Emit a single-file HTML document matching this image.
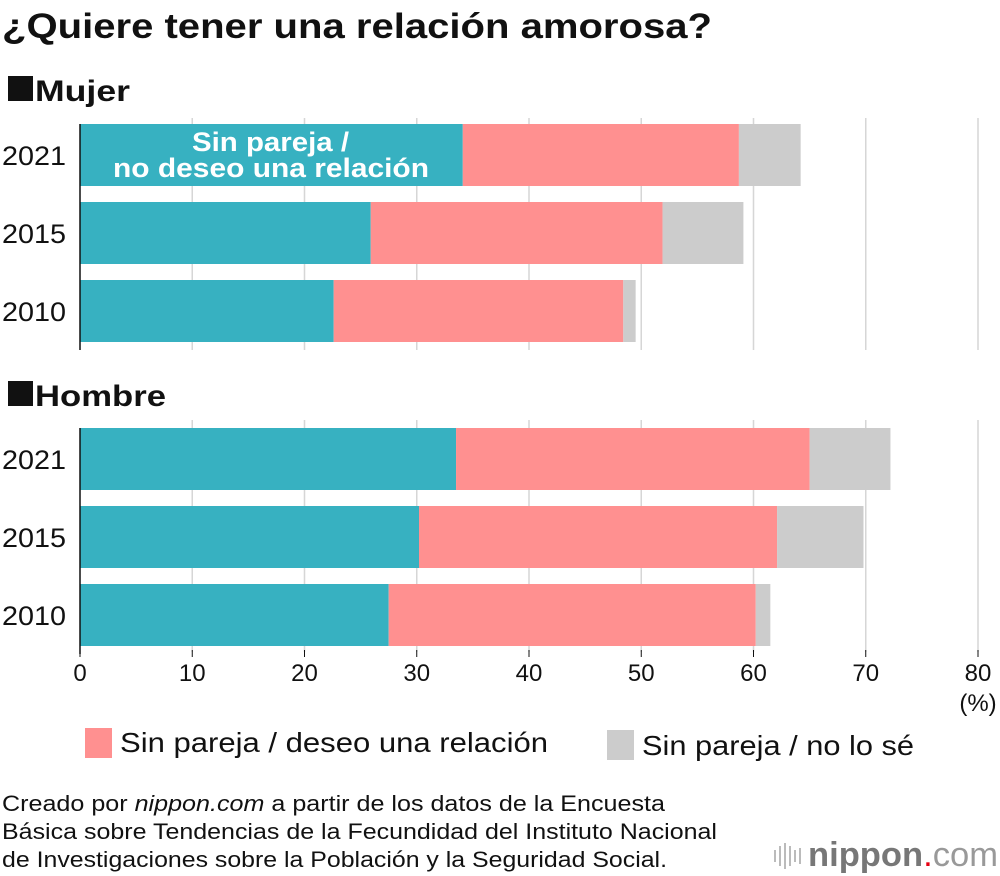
<!DOCTYPE html>
<html><head><meta charset="utf-8"><style>
body{margin:0;background:#fff;}
svg{display:block;font-family:"Liberation Sans",sans-serif;}
</style></head><body>
<svg id="c" width="1000" height="876" viewBox="0 0 1000 876">
<text x="2" y="38" font-size="35" font-weight="bold" fill="#111" textLength="710" lengthAdjust="spacingAndGlyphs">¿Quiere tener una relación amorosa?</text>
<rect x="8" y="76" width="25" height="25" fill="#111"/>
<text x="35" y="101" font-size="30" font-weight="bold" fill="#111" textLength="95" lengthAdjust="spacingAndGlyphs">Mujer</text>
<rect x="8" y="381" width="25" height="25" fill="#111"/>
<text x="35" y="406" font-size="30" font-weight="bold" fill="#111" textLength="131" lengthAdjust="spacingAndGlyphs">Hombre</text>
<g id="grid"></g><g id="bars"></g><g id="ticks"></g>
<text x="978" y="711" font-size="24" text-anchor="middle" fill="#111">(%)</text>
<rect x="85" y="728" width="27" height="30" fill="#ff9090"/>
<text x="120" y="752" font-size="28" fill="#111" textLength="428" lengthAdjust="spacingAndGlyphs">Sin pareja / deseo una relación</text>
<rect x="607" y="730" width="27" height="30" fill="#cccccc"/>
<text x="642" y="755" font-size="28" fill="#111" textLength="272" lengthAdjust="spacingAndGlyphs">Sin pareja / no lo sé</text>
<g font-size="22" fill="#111">
<text x="2" y="811" textLength="663" lengthAdjust="spacingAndGlyphs">Creado por <tspan font-style="italic">nippon.com</tspan> a partir de los datos de la Encuesta</text>
<text x="2" y="839" textLength="715" lengthAdjust="spacingAndGlyphs">Básica sobre Tendencias de la Fecundidad del Instituto Nacional</text>
<text x="2" y="867" textLength="665" lengthAdjust="spacingAndGlyphs">de Investigaciones sobre la Población y la Seguridad Social.</text>
</g>
<g>
<g stroke="#bbb" stroke-width="2"><line x1="775" y1="850" x2="775" y2="862"/><line x1="780" y1="846" x2="780" y2="866"/><line x1="785" y1="843" x2="785" y2="869"/><line x1="790" y1="846" x2="790" y2="866"/><line x1="795" y1="850" x2="795" y2="862"/><line x1="800" y1="848" x2="800" y2="864"/></g>
<text x="808" y="866" font-size="34" fill="#777" textLength="190" lengthAdjust="spacingAndGlyphs"><tspan font-weight="bold">nippon</tspan><tspan fill="#e60012">.</tspan><tspan fill="#999">com</tspan></text>
</g>
</svg>
<script>
const years=["2021","2015","2010"];
const mujerNoDeseo=[34.1,25.9,22.6];
const mujerDeseo=[24.6,26.0,25.8];
const mujerNoSe=[5.5,7.2,1.1];
const hombreNoDeseo=[33.5,30.2,27.5];
const hombreDeseo=[31.5,31.9,32.7];
const hombreNoSe=[7.2,7.7,1.3];
const ticks=[0,10,20,30,40,50,60,70,80];
const NS="http://www.w3.org/2000/svg";
const x=v=>80+v*11.225;
function mk(t,a,p){const e=document.createElementNS(NS,t);for(const k in a)e.setAttribute(k,a[k]);p.appendChild(e);return e;}
const grid=document.getElementById('grid'),bars=document.getElementById('bars'),tk=document.getElementById('ticks');
ticks.forEach(t=>{
 if(t>0){[[118,350],[420,652]].forEach(r=>{const l=mk('line',{x1:x(t),x2:x(t),y1:r[0],y2:r[1],stroke:'#d6d6d6','stroke-width':1.5},grid);
 
 });}
 const tl=mk('line',{x1:x(t),x2:x(t),y1:650,y2:657,stroke:'#111','stroke-width':1},tk);
 
 
 const tx=mk('text',{x:x(t),y:681,'font-size':24,'text-anchor':'middle',fill:'#111'},tk);tx.textContent=t;
 
 
});
function group(y0,a,b,c,name){
 years.forEach((yr,i)=>{const y=y0+i*78;
  const segs=[[0,a[i],'#37b1c1','no-deseo'],[a[i],a[i]+b[i],'#ff9090','deseo'],[a[i]+b[i],a[i]+b[i]+c[i],'#cccccc','no-se']];
  segs.forEach(s=>{const r=mk('rect',{x:x(s[0]),y:y,width:x(s[1])-x(s[0]),height:62,fill:s[2]},bars);
   
   });
  const t=mk('text',{x:2,y:y+41,'font-size':27,fill:'#111',textLength:64,lengthAdjust:'spacingAndGlyphs'},bars);t.textContent=yr;
  
  
 });
 const ax=mk('line',{x1:80,x2:80,y1:y0,y2:y0+226,stroke:'#111','stroke-width':1.5},bars);
 
 
}
group(124,mujerNoDeseo,mujerDeseo,mujerNoSe,'mujer');
group(428,hombreNoDeseo,hombreDeseo,hombreNoSe,'hombre');
const lab=mk('text',{'font-size':27,'font-weight':'bold',fill:'#fff'},bars);


mk('tspan',{x:192,y:151,textLength:157,lengthAdjust:'spacingAndGlyphs'},lab).textContent='Sin pareja /';
mk('tspan',{x:113,y:177,textLength:316,lengthAdjust:'spacingAndGlyphs'},lab).textContent='no deseo una relación';
</script>
</body></html>
